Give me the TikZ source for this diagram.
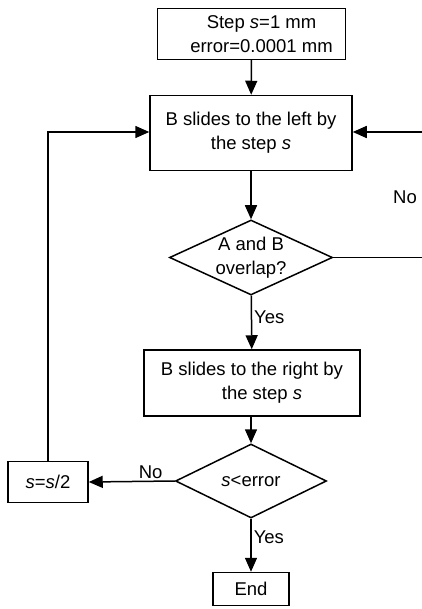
\documentclass[tikz,border=0pt]{standalone}
\usepackage{fontspec}
\setmainfont{Liberation Sans}
\usetikzlibrary{positioning, arrows.meta, shapes.geometric}

\begin{document}
\begin{tikzpicture}[x=1pt, y=-1pt, >={Triangle[length=14pt,width=12pt]}, line width=1.5pt,
  every node/.style={font=\fontsize{18.5}{24}\selectfont},
  procbox/.style={draw, rectangle, align=center, inner sep=0pt},
  decide/.style={draw, diamond, align=center, inner sep=0pt, aspect=2.2},
  lbl/.style={inner sep=2pt}]
  \useasboundingbox (0,0) rectangle (422,609);

  % Boxes
  \node[procbox, minimum width=188pt, minimum height=51pt] (start) at (251.5,34)
    {\hspace*{20pt}Step \textit{s}=1 mm\\ \hspace*{20pt}error=0.0001 mm};
  \node[procbox, minimum width=202pt, minimum height=75pt] (slideL) at (251,133)
    {B slides to the left by\\ the step \textit{s}};
  \node[decide, minimum width=163pt, minimum height=75pt] (overlap) at (251,257.5)
    {A and B\\ overlap?};
  \node[procbox, minimum width=216pt, minimum height=66pt] (slideR) at (252,383)
    {B slides to the right by\\ \hspace*{20pt}the step \textit{s}};
  \node[decide, minimum width=151pt, minimum height=74pt] (check) at (251,481)
    {\textit{s}<error};
  \node[procbox, minimum width=80pt, minimum height=41pt] (half) at (48,482)
    {\textit{s}=\textit{s}/2};
  \node[procbox, minimum width=76pt, minimum height=33pt] (stop) at (251,589) {End};

  % Loose ends at the right edge
  \coordinate (rtIn) at (422,132);
  \coordinate (rtOut) at (422,257.5);
  \node[lbl] (noRight) at (405,197) {No};

  % Connectors
  \draw[->] (start) -- (slideL);
  \draw[->] (slideL) -- (overlap);
  \draw[->] (overlap) -- node[lbl, right, pos=0.4] {Yes} (slideR);
  \draw[->] (slideR.south -| check) -- (check);
  \draw[->] (check) -- node[lbl, right, pos=0.35] {Yes} (stop);
  \draw[->] (check.west) -- node[lbl, above, pos=0.28] {No} (half.east);
  \draw[->] (half.north) |- (slideL.west |- rtIn);
  \draw (overlap.east) -- (rtOut);
  \draw[->] (rtIn) -- (slideL.east |- rtIn);

\end{tikzpicture}
\end{document}
